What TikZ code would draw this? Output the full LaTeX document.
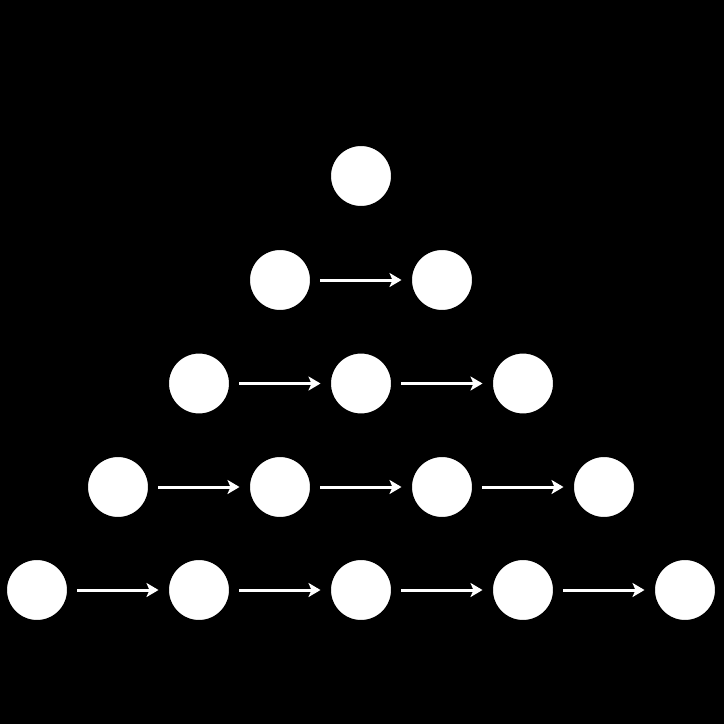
\documentclass[tikz,border=0pt]{standalone}
\usetikzlibrary{arrows.meta}
\begin{document}
\begin{tikzpicture}[x=1pt,y=-1pt,
  vtx/.style={circle,fill=white,draw=black,line width=10pt,minimum size=70pt,inner sep=0pt,outer sep=5pt},
  link/.style={draw=white,line width=3pt,-{Stealth[length=12pt,width=14pt,inset=3pt]},shorten >=0.5pt}]
\fill[black] (0,0) rectangle (724,724);
\useasboundingbox (0,0) rectangle (724,724);
\foreach \r/\y in {1/176,2/280,3/383.5,4/487,5/590}{
  \foreach \c in {1,...,\r}{
    \pgfmathsetmacro{\xx}{361+162*(\c-1)-81*(\r-1)}
    \node[vtx] (n\r-\c) at (\xx,\y) {};
  }
}
\foreach \r in {2,...,5}{
  \pgfmathtruncatemacro{\last}{\r-1}
  \foreach \c in {1,...,\last}{
    \pgfmathtruncatemacro{\nx}{\c+1}
    \draw[link] (n\r-\c) -- (n\r-\nx);
  }
}
\end{tikzpicture}
\end{document}
